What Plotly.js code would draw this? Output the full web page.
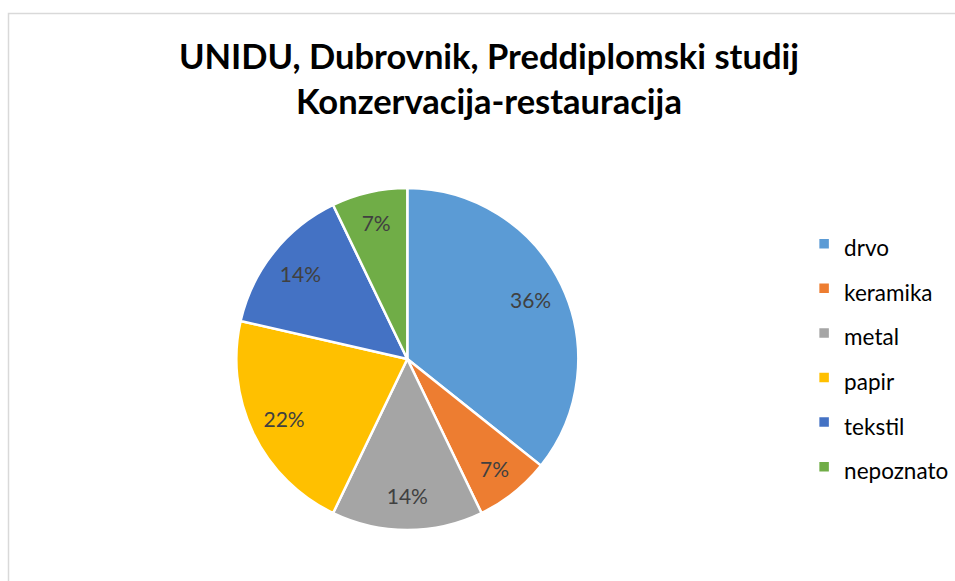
<!DOCTYPE html>
<html>
<head>
<meta charset="utf-8">
<script src="https://cdn.plot.ly/plotly-3.0.1.min.js"></script>
<style>
  html, body { margin: 0; padding: 0; background: #ffffff; }
  #chart { width: 955px; height: 581px; }
</style>
</head>
<body>
<div id="chart"></div>
<script>
// Data
const categories = ['drvo', 'keramika', 'metal', 'papir', 'tekstil', 'nepoznato'];
const counts = [5, 1, 2, 3, 2, 1];
const percentLabels = ['36%', '7%', '14%', '22%', '14%', '7%'];
const sliceColors = ['#5B9BD5', '#ED7D31', '#A5A5A5', '#FFC000', '#4472C4', '#70AD47'];
const titleLines = ['UNIDU, Dubrovnik, Preddiplomski studij', 'Konzervacija-restauracija'];

const legendNames = categories.map(c => '<span style="font-size:22.5px">' + c + '</span>');
const pieDomain = { x: [0.2474, 0.6056], y: [0.0878, 0.6764] };

// visible slices + legend
const slices = {
  type: 'pie',
  labels: legendNames,
  values: counts,
  textinfo: 'none',
  sort: false,
  direction: 'clockwise',
  rotation: 0,
  hoverinfo: 'label+value',
  marker: { colors: sliceColors, line: { color: '#ffffff', width: 2.5 } },
  domain: pieDomain
};

// same data, transparent ring, only to place the percentage labels further out
const labelRing = {
  type: 'pie',
  labels: legendNames,
  values: counts,
  text: percentLabels,
  textinfo: 'text',
  textposition: 'inside',
  insidetextorientation: 'horizontal',
  hole: 0.6,
  sort: false,
  direction: 'clockwise',
  rotation: 0,
  showlegend: false,
  hoverinfo: 'skip',
  marker: { colors: categories.map(() => 'rgba(0,0,0,0)'), line: { width: 0 } },
  insidetextfont: { family: 'Lato, sans-serif', size: 21, color: '#404040' },
  domain: pieDomain
};

const layout = {
  width: 955,
  height: 581,
  margin: { l: 0, r: 0, t: 0, b: 0 },
  paper_bgcolor: '#ffffff',
  showlegend: true,
  title: {
    text: '<b>' + titleLines.join('<br>') + '</b>',
    font: { family: 'Lato, sans-serif', size: 34.5, color: '#000000' },
    x: 0.512, xanchor: 'center', xref: 'paper',
    y: 0.881, yanchor: 'middle', yref: 'paper'
  },
  legend: {
    x: 0.842, xanchor: 'left',
    y: 0.6275, yanchor: 'top',
    font: { family: 'Lato, sans-serif', size: 32, color: '#000000' },
    bgcolor: 'rgba(0,0,0,0)'
  },
  shapes: [{
    type: 'rect', xref: 'paper', yref: 'paper',
    x0: 8.5 / 955, x1: 1.05, y0: -0.05, y1: 1 - 13.5 / 581,
    line: { color: '#d9d9d9', width: 1.5 }, fillcolor: 'rgba(0,0,0,0)', layer: 'below'
  }]
};

Plotly.newPlot('chart', [slices, labelRing], layout, { displayModeBar: false, staticPlot: true });
</script>
</body>
</html>
